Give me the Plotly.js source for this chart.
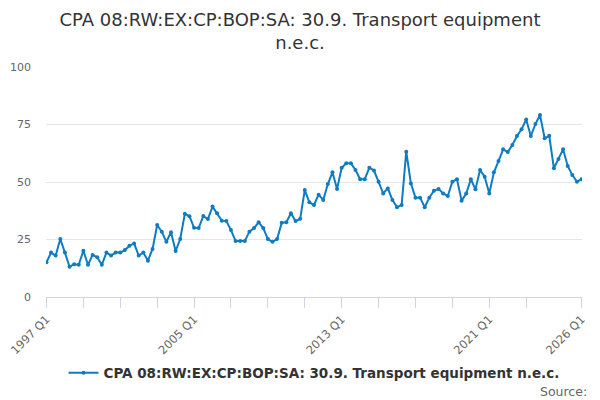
<!DOCTYPE html>
<html>
<head>
<meta charset="utf-8">
<script src="https://cdn.plot.ly/plotly-3.0.1.min.js"></script>
<style>html,body{margin:0;padding:0;background:#fff;}#chart{width:600px;height:400px;}</style>
</head>
<body>
<div id="chart"></div>
<script>
var seriesName = "CPA 08:RW:EX:CP:BOP:SA: 30.9. Transport equipment n.e.c.";
var firstYear = 1997;
var lastYear = 2026;
var values = [
  15.1, 19.3, 18.0, 25.2,
  19.3, 13.2, 14.2, 14.0,
  20.1, 14.0, 18.3, 17.3,
  14.0, 19.3, 18.0, 19.3,
  19.3, 20.4, 22.3, 23.3,
  18.0, 19.3, 15.8, 20.9,
  31.3, 28.4, 24.0, 28.2,
  20.0, 25.2, 36.2, 35.1,
  30.1, 30.0, 35.2, 33.9,
  39.3, 36.4, 33.2, 33.0,
  29.1, 24.3, 24.3, 24.3,
  28.4, 30.0, 32.5, 30.0,
  25.2, 24.0, 25.2, 32.3,
  32.5, 36.4, 33.0, 34.0,
  46.5, 41.2, 40.0, 44.5,
  42.2, 49.1, 54.2, 47.0,
  56.2, 58.1, 58.1, 55.2,
  51.2, 51.2, 56.2, 55.0,
  50.1, 45.0, 47.2, 42.2,
  39.0, 40.0, 63.2, 49.4,
  43.2, 43.2, 39.0, 43.2,
  46.2, 47.0, 45.0, 43.9,
  50.1, 51.2, 41.9, 45.0,
  51.2, 46.8, 55.2, 52.3,
  45.0, 54.2, 59.1, 64.2,
  63.0, 66.1, 70.0, 72.9,
  77.2, 70.0, 75.2, 79.1,
  69.0, 70.1, 56.0, 60.0,
  64.2, 57.0, 53.0, 50.1,
  51.2
];
var tickMarkLabels = ["1997 Q1","1999 Q1","2001 Q1","2003 Q1","2005 Q1","2007 Q1","2009 Q1","2011 Q1","2013 Q1","2015 Q1","2017 Q1","2019 Q1","2021 Q1","2023 Q1","2026 Q1"];
var shownTickLabels = ["1997 Q1","2005 Q1","2013 Q1","2021 Q1","2026 Q1"];
var yTicks = [0, 25, 50, 75, 100];

var categories = [];
for (var y = firstYear; y <= lastYear; y++) {
  for (var q = 1; q <= 4; q++) {
    if (categories.length < values.length) categories.push(y + " Q" + q);
  }
}
var tickText = tickMarkLabels.map(function(t){ return shownTickLabels.indexOf(t) >= 0 ? t : ""; });

var trace = {
  x: categories,
  y: values,
  type: "scatter",
  mode: "lines+markers",
  name: seriesName,
  line: {color: "#0f7cc0", width: 2},
  marker: {color: "#0f7cc0", size: 4},
  hoverinfo: "none"
};

var layout = {
  width: 600,
  height: 400,
  paper_bgcolor: "#ffffff",
  plot_bgcolor: "#ffffff",
  font: {family: "DejaVu Sans, sans-serif", color: "#666666", size: 11},
  margin: {l: 46, r: 18, t: 67, b: 103},
  title: {
    text: "CPA 08:RW:EX:CP:BOP:SA: 30.9. Transport equipment<br>n.e.c.",
    font: {family: "DejaVu Sans, sans-serif", size: 18, color: "#333333"},
    x: 0.5, xanchor: "center",
    y: 0.935, yanchor: "top", yref: "container"
  },
  xaxis: {
    type: "category",
    range: [-0.1, values.length - 1 + 0.1],
    tickmode: "array",
    tickvals: tickMarkLabels,
    ticktext: tickText,
    tickangle: -45,
    ticks: "outside",
    ticklen: 10,
    tickcolor: "#ccd6eb",
    tickwidth: 1,
    showline: true,
    linecolor: "#ccd6eb",
    linewidth: 1,
    showgrid: false,
    zeroline: false,
    tickfont: {size: 11.5, color: "#666666"},
    fixedrange: true
  },
  yaxis: {
    range: [0, 100],
    tickmode: "array",
    tickvals: yTicks,
    ticks: "",
    ticklabelstandoff: 14,
    showgrid: true,
    gridcolor: "#e6e6e6",
    gridwidth: 1,
    zeroline: false,
    showline: false,
    tickfont: {size: 11, color: "#666666"},
    fixedrange: true
  },
  showlegend: true,
  legend: {
    orientation: "h",
    x: 0.5, xanchor: "center",
    y: -0.33, yanchor: "middle",
    itemwidth: 30,
    font: {size: 13.5, color: "#333333", weight: "bold"},
    bgcolor: "rgba(0,0,0,0)"
  },
  annotations: [{
    text: "Source:",
    xref: "paper", yref: "paper",
    x: 1.013, y: -0.41,
    xanchor: "right", yanchor: "middle",
    showarrow: false,
    font: {size: 12.5, color: "#666666"}
  }]
};

Plotly.newPlot("chart", [trace], layout, {displayModeBar: false, staticPlot: true});
</script>
</body>
</html>
